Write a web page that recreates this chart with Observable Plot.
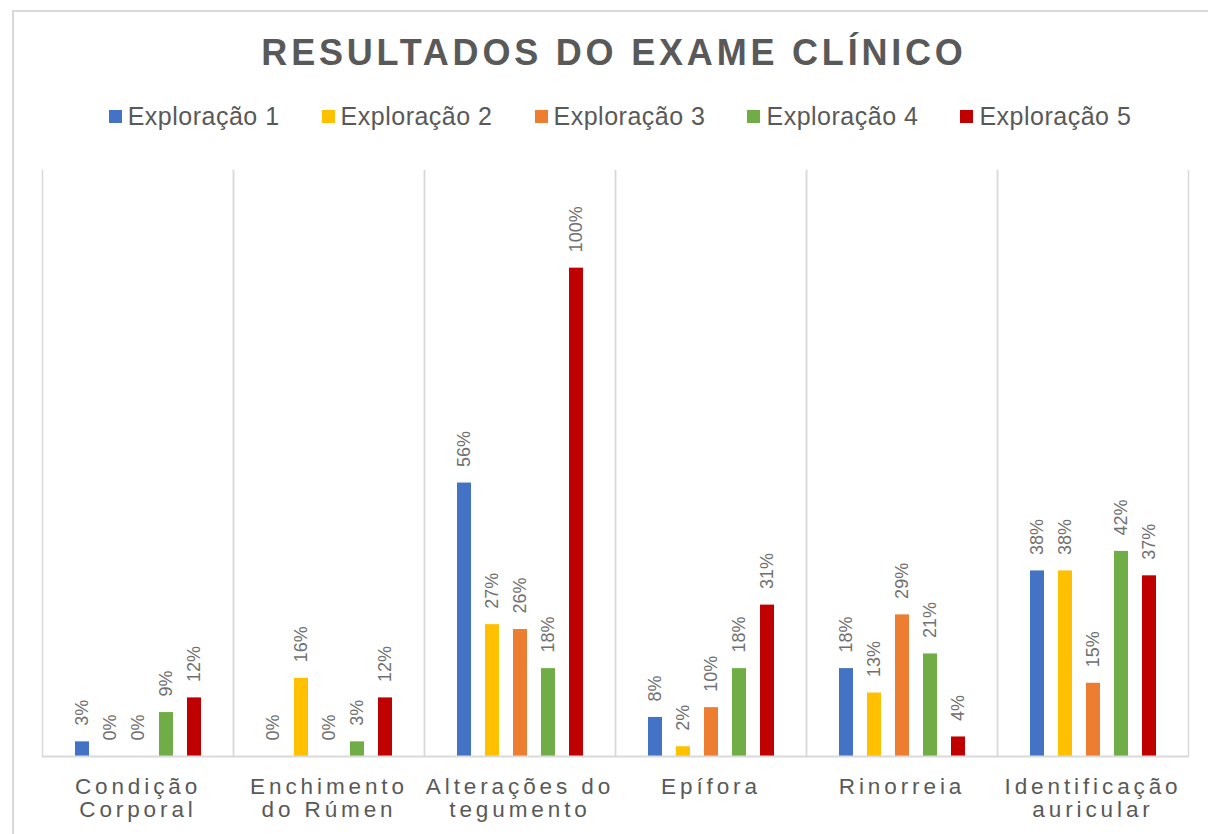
<!DOCTYPE html>
<html>
<head>
<meta charset="utf-8">
<script src="https://cdn.jsdelivr.net/npm/d3@7"></script>
<script src="https://cdn.jsdelivr.net/npm/@observablehq/plot@0.6"></script>
<style>
  html, body { margin: 0; padding: 0; background: #fff; overflow: hidden; }
  body { font-family: "Liberation Sans", Arial, sans-serif; color: #595959; }
  #wrap { position: relative; width: 1208px; height: 834px; overflow: hidden; }
  #frame { position: absolute; left: 12px; top: 10px; width: 1240px; height: 860px; border: 2px solid #d9d9d9; box-sizing: border-box; }
  #title { position: absolute; left: 12px; width: 1204px; top: 35px; text-align: center; font-weight: bold; font-size: 36px; line-height: 36px; letter-spacing: 3.8px; color: #595959; }
  #legend { position: absolute; left: 32px; width: 1176px; top: 104px; display: flex; justify-content: center; gap: 42px; font-size: 25px; line-height: 25px; letter-spacing: 0.5px; }
  #legend .item { display: flex; align-items: center; }
  #legend .sw { width: 13px; height: 13px; margin-right: 6px; }
  #chart { position: absolute; left: 0; top: 160px; }
  g[aria-label="fx-axis tick label"] text { letter-spacing: 3.9px; }
</style>
</head>
<body>
<div id="wrap">
  <div id="frame"></div>
  <div id="title"></div>
  <div id="legend"></div>
  <div id="chart"></div>
</div>
<script>
const titleText = "RESULTADOS DO EXAME CLÍNICO";
const categories = ["Condição Corporal", "Enchimento do Rúmen", "Alterações do tegumento", "Epífora", "Rinorreia", "Identificação auricular"];
const categoryLabels = ["Condição\nCorporal", "Enchimento\ndo Rúmen", "Alterações do\ntegumento", "Epífora", "Rinorreia", "Identificação\nauricular"];
const series = ["Exploração 1", "Exploração 2", "Exploração 3", "Exploração 4", "Exploração 5"];
const colors = ["#4472C4", "#FFC000", "#ED7D31", "#70AD47", "#C00000"];
const exploracao1 = [3, 0, 56, 8, 18, 38];
const exploracao2 = [0, 16, 27, 2, 13, 38];
const exploracao3 = [0, 0, 26, 10, 29, 15];
const exploracao4 = [9, 3, 18, 18, 21, 42];
const exploracao5 = [12, 12, 100, 31, 4, 37];

const seriesValues = [exploracao1, exploracao2, exploracao3, exploracao4, exploracao5];
const data = [];
categories.forEach((c, i) => {
  series.forEach((s, j) => data.push({category: c, serie: s, value: seriesValues[j][i]}));
});

document.getElementById("title").textContent = titleText;
const legend = document.getElementById("legend");
series.forEach((s, j) => {
  const item = document.createElement("div");
  item.className = "item";
  const sw = document.createElement("span");
  sw.className = "sw";
  sw.style.background = colors[j];
  const t = document.createElement("span");
  t.textContent = s;
  item.appendChild(sw);
  item.appendChild(t);
  legend.appendChild(item);
});

const labelOf = new Map(categories.map((c, i) => [c, categoryLabels[i]]));

const chart = Plot.plot({
  width: 1208,
  height: 674,
  marginLeft: 40,
  marginRight: 18,
  marginTop: 10,
  marginBottom: 78,
  style: {fontFamily: "'Liberation Sans', Arial, sans-serif", color: "#595959", background: "transparent"},
  fx: {domain: categories, padding: 0, label: null, axis: null},
  x: {domain: series, paddingInner: 0.5, paddingOuter: 1.12, axis: null},
  y: {domain: [0, 120], axis: null},
  color: {domain: series, range: colors},
  marks: [
    Plot.frame({anchor: "left", stroke: "#d9d9d9", strokeWidth: 1.5}),
    Plot.frame({anchor: "right", stroke: "#d9d9d9", strokeWidth: 1.5}),
    Plot.barY(data, {fx: "category", x: "serie", y: "value", fill: "serie"}),
    Plot.text(data, {fx: "category", x: "serie", y: "value", text: d => d.value + "%", rotate: -90, textAnchor: "start", dy: -16, fontSize: 18, fill: "#707070"}),
    Plot.ruleY([0], {stroke: "#d9d9d9", strokeWidth: 2}),
    Plot.axisFx({anchor: "bottom", tickSize: 0, tickPadding: 21, fontSize: 22.5, lineHeight: 1.03, tickFormat: c => labelOf.get(c), label: null, fill: "#595959"})
  ]
});
document.getElementById("chart").appendChild(chart);
</script>
</body>
</html>
